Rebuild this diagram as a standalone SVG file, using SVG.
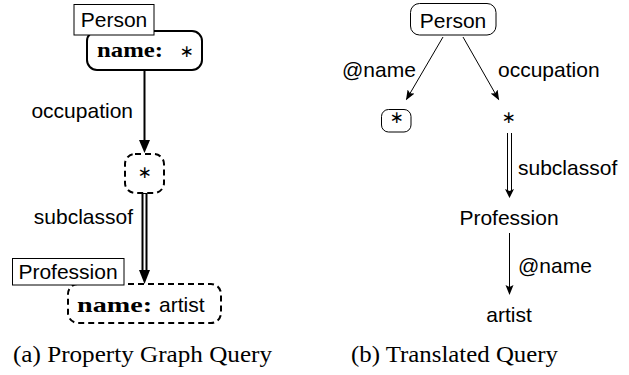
<svg xmlns="http://www.w3.org/2000/svg" width="629" height="375" viewBox="0 0 629 375">
<defs>
<style>
.sans{font-family:"Liberation Sans",Arial,sans-serif;font-size:21px;fill:#000}
.bold{font-family:"Liberation Serif","Times New Roman",serif;font-weight:bold;font-size:22px;fill:#000}
.star{font-family:"DejaVu Sans",sans-serif;font-size:17px;fill:#000;text-anchor:middle}
.cap{font-family:"Liberation Serif","Times New Roman",serif;font-size:23px;fill:#000}
.lbl{fill:#fff;stroke:#000;stroke-width:1}
.thick{fill:#fff;stroke:#000;stroke-width:2}
.dash{fill:#fff;stroke:#000;stroke-width:2;stroke-dasharray:6 4}
.thin{fill:#fff;stroke:#000;stroke-width:1}
.e2{stroke:#000;stroke-width:2;fill:none}
.e1{stroke:#000;stroke-width:1;fill:none}
</style>
<marker id="ah2" markerUnits="userSpaceOnUse" markerWidth="14" markerHeight="12" refX="9" refY="5.5" orient="auto">
<path d="M0,0 L13,5.5 L0,11 z" fill="#000"/>
</marker>
<marker id="ah1" markerUnits="userSpaceOnUse" markerWidth="12" markerHeight="10" refX="9" refY="4" orient="auto">
<path d="M0,0 L10,4 L0,8 L2,4 z" fill="#000"/>
</marker>
</defs>
<rect width="629" height="375" fill="#fff"/>

<g id="connectors">
<!-- left -->
<line class="e2" x1="144.5" y1="70" x2="144.5" y2="149" marker-end="url(#ah2)"/>
<line x1="144.5" y1="193" x2="144.5" y2="272" stroke="#000" stroke-width="6"/>
<line x1="144.5" y1="194" x2="144.5" y2="273" stroke="#fff" stroke-width="2"/>
<polygon points="139,270 150,270 144.5,284" fill="#000"/>
<text class="sans" x="133" y="118" text-anchor="end">occupation</text>
<text class="sans" x="133" y="224" text-anchor="end">subclassof</text>
<!-- right -->
<line class="e1" x1="443" y1="37" x2="406.5" y2="99.4" marker-end="url(#ah1)"/>
<line class="e1" x1="463" y1="37" x2="498.6" y2="99.4" marker-end="url(#ah1)"/>
<line x1="509.5" y1="133" x2="509.5" y2="191" stroke="#000" stroke-width="5"/>
<line x1="509.5" y1="132" x2="509.5" y2="191" stroke="#fff" stroke-width="3"/>
<path d="M505,189 L509.5,198 L514,189 L509.5,191 z" fill="#000"/>
<line class="e1" x1="509.5" y1="233" x2="509.5" y2="294" marker-end="url(#ah1)"/>
<text class="sans" x="342" y="77">@name</text>
<text class="sans" x="498" y="77">occupation</text>
<text class="sans" x="518" y="175">subclassof</text>
<text class="sans" x="518" y="273">@name</text>
</g>

<g id="left-person">
<rect class="thick" x="87" y="31" width="115" height="39" rx="10"/>
<rect class="lbl" x="74" y="4.5" width="80" height="30.5"/>
<text class="sans" x="114" y="27" text-anchor="middle">Person</text>
<text class="bold" x="97" y="57" textLength="66" lengthAdjust="spacingAndGlyphs">name:</text>
<text class="star" x="186.5" y="57">∗</text>
</g>

<g id="left-star">
<rect class="dash" x="125" y="154" width="39" height="39" rx="10"/>
<text class="star" x="144.5" y="178">∗</text>
</g>

<g id="left-profession">
<rect class="dash" x="68" y="284" width="153" height="39" rx="10"/>
<rect class="lbl" x="12.5" y="258.5" width="111.5" height="26.5"/>
<text class="sans" x="68" y="279" text-anchor="middle">Profession</text>
<text class="bold" x="77" y="312" textLength="75" lengthAdjust="spacingAndGlyphs">name:</text>
<text class="sans" x="159" y="312">artist</text>
</g>

<g id="right-person">
<rect class="thin" x="410.5" y="3.5" width="85.5" height="31.5" rx="9"/>
<text class="sans" x="453" y="28" text-anchor="middle" font-size="22">Person</text>
</g>

<g id="right-name-star">
<rect class="thin" x="381.5" y="109.5" width="29.5" height="22.5" rx="7"/>
<text class="star" x="396.5" y="123">∗</text>
</g>

<g id="right-occ-star">
<text class="star" x="508.5" y="123">∗</text>
</g>

<g id="right-profession">
<text class="sans" x="509" y="225" text-anchor="middle" font-size="22">Profession</text>
</g>

<g id="right-artist">
<text class="sans" x="509" y="322" text-anchor="middle" font-size="22">artist</text>
</g>

<g id="captions">
<text class="cap" x="13" y="362" textLength="259" lengthAdjust="spacingAndGlyphs">(a) Property Graph Query</text>
<text class="cap" x="351" y="362" textLength="207" lengthAdjust="spacingAndGlyphs">(b) Translated Query</text>
</g>
</svg>
